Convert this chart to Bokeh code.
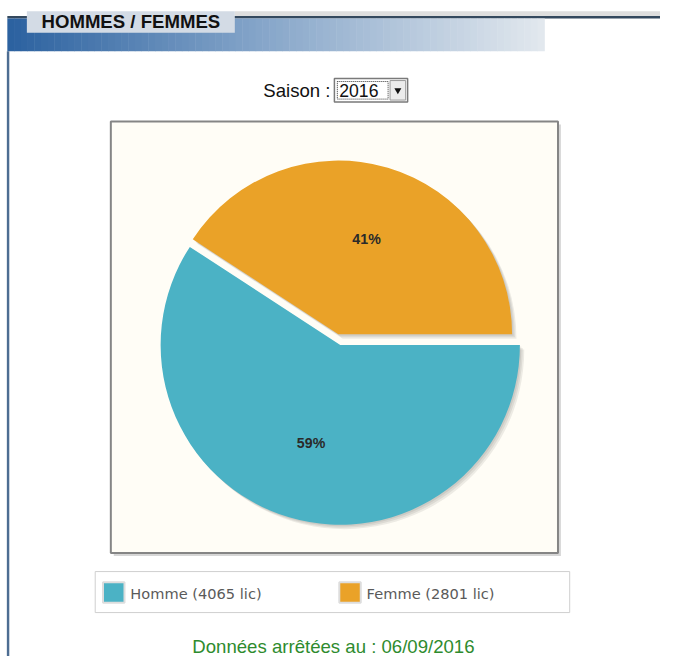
import math
from bokeh.plotting import figure
from bokeh.models import Range1d
from bokeh.core.properties import value
from bokeh.embed import file_html
from bokeh.resources import INLINE

# ---------------- data ----------------
categories = ["Homme", "Femme"]
licences = [4065, 2801]
colors = ["#4bb2c5", "#EAA228"]
title_text = "HOMMES / FEMMES"
season_label = "Saison :"
season_value = "2016"
footer_text = "Données arrêtées au : 06/09/2016"

# ---------------- canvas (data coordinates = reference pixels) ----------------
W, H = 660, 656
REF_W, REF_H = 676, 672
S = W / REF_W  # font scale


def Y(sy):
    return REF_H - sy


def fs(px):
    return value("%.1fpx" % (px * S))


p = figure(width=W, height=H, x_range=Range1d(0, REF_W), y_range=Range1d(0, REF_H),
           output_backend="svg", toolbar_location=None, min_border=0)
p.axis.visible = False
p.grid.visible = False
p.outline_line_color = None
p.background_fill_color = "white"
p.border_fill_color = "white"

FONT = value("Liberation Sans")

# ---------------- header ----------------
p.quad(left=[240], right=[676], top=[Y(11)], bottom=[Y(16)], fill_color="#dedede", line_color=None)
p.quad(left=[7], right=[676], top=[Y(16)], bottom=[Y(18.5)], fill_color="#34495e", line_color=None)
x0, x1 = 7, 557
n = 80
c0 = (0x2c, 0x62, 0xa0)
cm = (0x82, 0xa3, 0xc8)
c1 = (0xe2, 0xe8, 0xee)
lefts, rights, cols = [], [], []
for i in range(n):
    t = i / (n - 1)
    if t < 0.45:
        u = t / 0.45
        c = tuple(int(c0[k] + (cm[k] - c0[k]) * u) for k in range(3))
    else:
        u = (t - 0.45) / 0.55
        c = tuple(int(cm[k] + (c1[k] - cm[k]) * u) for k in range(3))
    lefts.append(x0 + (x1 - x0) * i / n)
    rights.append(x0 + (x1 - x0) * (i + 1) / n + 0.5)
    cols.append("#%02x%02x%02x" % c)
p.quad(left=lefts, right=rights, top=[Y(18.5)] * n, bottom=[Y(52)] * n, fill_color=cols, line_color=None)
p.quad(left=[27], right=[240], top=[Y(11)], bottom=[Y(33)], fill_color="#d3dbe5", line_color=None)
p.text(x=[42], y=[Y(21)], text=[title_text], text_font=FONT, text_font_size=fs(19),
       text_font_style="bold", text_color="#111111", text_align="left", text_baseline="middle")
p.quad(left=[6.5], right=[9], top=[Y(52)], bottom=[Y(672)], fill_color="#4d6d92", line_color=None)

# ---------------- season selector ----------------
p.text(x=[338], y=[Y(92)], text=[season_label], text_font=FONT, text_font_size=fs(19),
       text_color="#111111", text_align="right", text_baseline="middle")
p.quad(left=[342], right=[417], top=[Y(80)], bottom=[Y(104)], fill_color="white", line_color="#7a7a7a", line_width=1.5)
p.quad(left=[345], right=[397], top=[Y(83)], bottom=[Y(101)], fill_color=None, line_color="#333333",
       line_width=1, line_dash="1 1")
p.text(x=[347], y=[Y(92.5)], text=[season_value], text_font=FONT, text_font_size=fs(18),
       text_color="#111111", text_align="left", text_baseline="middle")
p.quad(left=[399], right=[415], top=[Y(82)], bottom=[Y(102)], fill_color="#ececec", line_color="#9a9a9a")
p.scatter(x=[407], y=[Y(92)], marker="inverted_triangle", size=7, fill_color="#111111", line_color=None)

# ---------------- chart frame ----------------
p.quad(left=[116], right=[574], top=[Y(127)], bottom=[Y(569)], fill_color="#bbbbbb", fill_alpha=0.6, line_color=None)
p.quad(left=[113], right=[571], top=[Y(124)], bottom=[Y(566)], fill_color="#fffdf6",
       line_color="#858585", line_width=2)

# ---------------- pie ----------------
total = sum(licences)
fracs = [v / total for v in licences]
centers = [(348, Y(353)), (346, Y(342))]
radii = [184, 178]
starts, ends = [], []
acc = 0.0
for f in fracs:
    starts.append(-2 * math.pi * acc)
    acc += f
    ends.append(-2 * math.pi * acc)

for k in range(1, 4):
    off = 1.5 * k
    p.wedge(x=[c[0] + off for c in centers], y=[c[1] - off for c in centers], radius=radii,
            start_angle=starts, end_angle=ends, direction="clock",
            fill_color="black", fill_alpha=0.07, line_color=None)

p.wedge(x=[c[0] for c in centers], y=[c[1] for c in centers], radius=radii,
        start_angle=starts, end_angle=ends, direction="clock",
        fill_color=colors, line_color=None)

lx, ly, lt = [], [], []
for i, f in enumerate(fracs):
    mid = (starts[i] + ends[i]) / 2
    lx.append(centers[i][0] + 0.57 * radii[i] * math.cos(mid))
    ly.append(centers[i][1] + 0.57 * radii[i] * math.sin(mid))
    lt.append("%d%%" % round(100 * f))
p.text(x=lx, y=ly, text=lt, text_font=FONT, text_font_size=fs(14.5), text_font_style="bold",
       text_color="#2a2a2a", text_align="center", text_baseline="middle")

# ---------------- legend ----------------
p.quad(left=[97], right=[583], top=[Y(585)], bottom=[Y(627)], fill_color="white", line_color="#cfcfcf")
sw_x = [105, 347]
p.quad(left=sw_x, right=[x + 22 for x in sw_x], top=[Y(596)] * 2, bottom=[Y(617)] * 2,
       fill_color=colors, line_color="#dddddd", line_width=2)
p.text(x=[x + 28 for x in sw_x], y=[Y(607)] * 2,
       text=["%s (%d lic)" % (c, v) for c, v in zip(categories, licences)],
       text_font=value("DejaVu Sans"), text_font_size=fs(15), text_color="#5a5a5a",
       text_align="left", text_baseline="middle")

# ---------------- footer ----------------
p.text(x=[341], y=[Y(662)], text=[footer_text], text_font=FONT, text_font_size=fs(19),
       text_color="#2e8b2e", text_align="center", text_baseline="middle")

open("out.html", "w").write(file_html(p, INLINE))
